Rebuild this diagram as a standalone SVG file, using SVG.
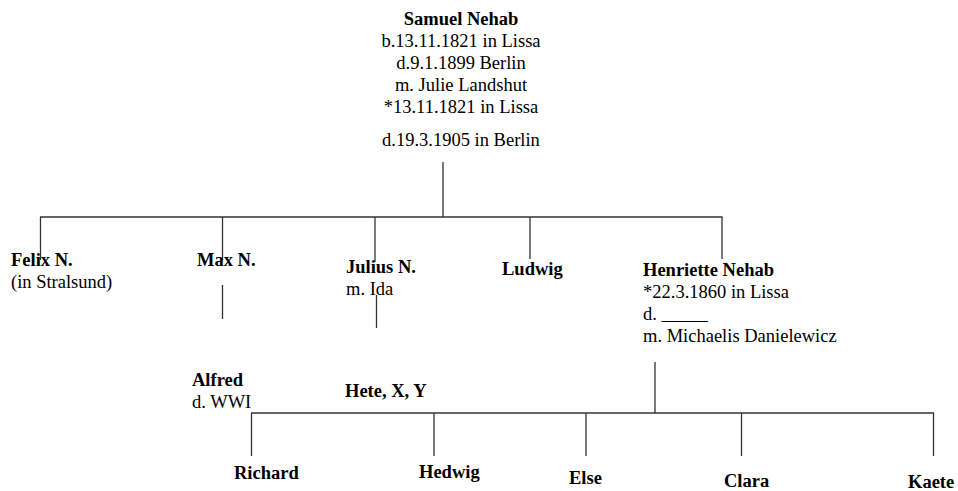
<svg xmlns="http://www.w3.org/2000/svg" width="958" height="491" viewBox="0 0 958 491">
  <style>
    text { font-family: "Liberation Serif", "Times New Roman", serif; font-size: 18.5px; fill: #000; }
    .name { font-weight: bold; }
    .mid { text-anchor: middle; }
    .conn line { stroke: #333; stroke-width: 1.3; }
  </style>
  <rect width="958" height="491" fill="#fff"/>

  <!-- connectors -->
  <g id="connectors" class="conn">
    <line x1="443" y1="162" x2="443" y2="217"/>
    <line x1="40" y1="217" x2="722.5" y2="217"/>
    <line x1="40.5" y1="217" x2="40.5" y2="260"/>
    <line x1="222.5" y1="217" x2="222.5" y2="260"/>
    <line x1="375" y1="217" x2="375" y2="262"/>
    <line x1="530" y1="217" x2="530" y2="259"/>
    <line x1="722" y1="217" x2="722" y2="259"/>
    <line x1="222.5" y1="285" x2="222.5" y2="319"/>
    <line x1="376.5" y1="295" x2="376.5" y2="328"/>
    <line x1="655" y1="362" x2="655" y2="413"/>
    <line x1="251" y1="413" x2="934" y2="413"/>
    <line x1="251.5" y1="413" x2="251.5" y2="456"/>
    <line x1="434" y1="413" x2="434" y2="456"/>
    <line x1="586" y1="413" x2="586" y2="456"/>
    <line x1="741.5" y1="413" x2="741.5" y2="456"/>
    <line x1="933.5" y1="413" x2="933.5" y2="456"/>
  </g>

  <!-- people -->
  <g id="samuel">
    <text class="name mid" x="461" y="25">Samuel Nehab</text>
    <text class="mid" x="461" y="47">b.13.11.1821 in Lissa</text>
    <text class="mid" x="461" y="69">d.9.1.1899 Berlin</text>
    <text class="mid" x="461" y="91">m. Julie Landshut</text>
    <text class="mid" x="461" y="113">*13.11.1821 in Lissa</text>
    <text class="mid" x="461" y="146">d.19.3.1905 in Berlin</text>
  </g>

  <g id="felix">
    <text class="name" x="11" y="266">Felix N.</text>
    <text x="11" y="288">(in Stralsund)</text>
  </g>

  <g id="max">
    <text class="name" x="197" y="266">Max N.</text>
  </g>

  <g id="julius">
    <text class="name" x="346" y="273">Julius N.</text>
    <text x="346" y="295">m. Ida</text>
  </g>

  <g id="ludwig">
    <text class="name" x="502" y="275">Ludwig</text>
  </g>

  <g id="henriette">
    <text class="name" x="643" y="276">Henriette Nehab</text>
    <text x="643" y="298">*22.3.1860 in Lissa</text>
    <text x="643" y="320">d. _____</text>
    <text x="643" y="342">m. Michaelis Danielewicz</text>
  </g>

  <g id="alfred">
    <text class="name" x="192" y="386">Alfred</text>
    <text x="192" y="408">d. WWI</text>
  </g>

  <g id="hete">
    <text class="name" x="345" y="397">Hete, X, Y</text>
  </g>

  <g id="richard"><text class="name" x="234" y="479">Richard</text></g>
  <g id="hedwig"><text class="name" x="419" y="478">Hedwig</text></g>
  <g id="else"><text class="name" x="569" y="484">Else</text></g>
  <g id="clara"><text class="name" x="724" y="487">Clara</text></g>
  <g id="kaete"><text class="name" x="908" y="488">Kaete</text></g>
</svg>
